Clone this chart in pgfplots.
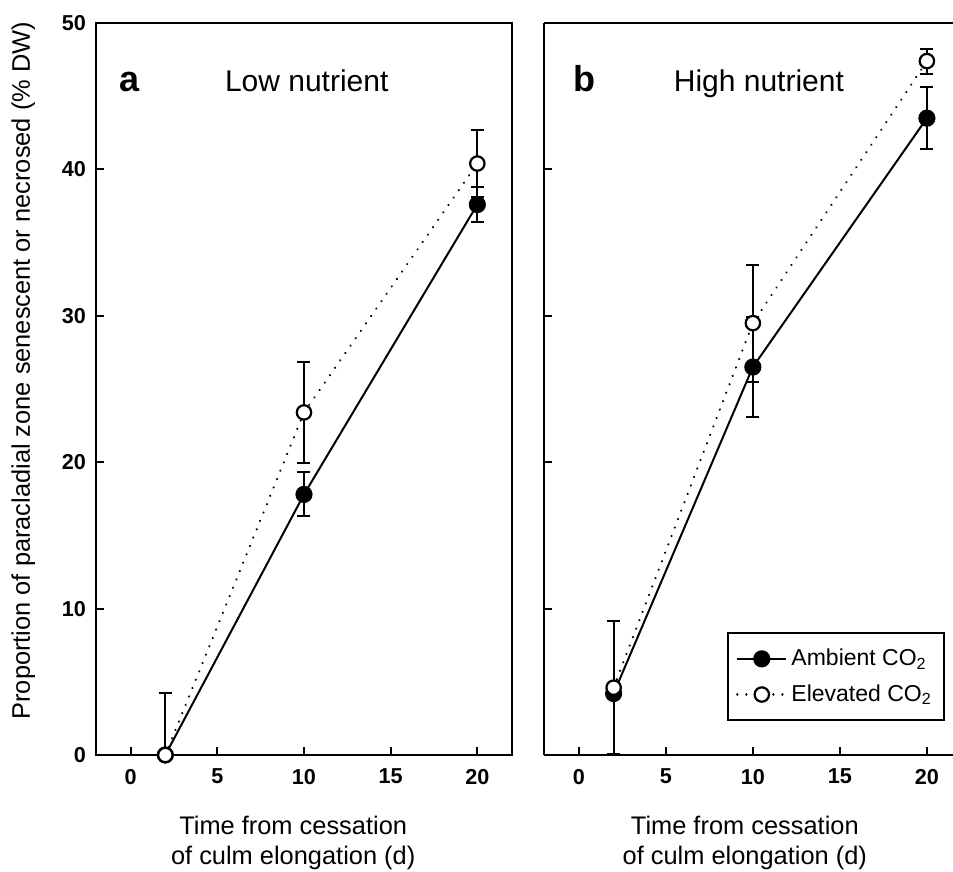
\documentclass[border=0pt]{standalone}
\usepackage{fontspec}
\setmainfont{Liberation Sans}
\usepackage{pgfplots}
\pgfplotsset{compat=1.18}

\pgfplotsset{
  panel/.style={
    scale only axis, height=366pt,
    xmin=-2, ymin=0, ymax=50,
    xtick={0,5,10,15,20}, ytick={0,10,20,30,40,50},
    tick align=inside, tick pos=left,
    major tick length=4pt,
    axis line style={line width=1pt},
    every tick/.style={black, line width=1pt},
    /pgf/number format/assume math mode=true,
    ticklabel style={font=\bfseries\fontsize{10.8}{12}\selectfont},
    xticklabel style={yshift=-3.5pt},
    yticklabel style={xshift=-1.5pt},
    label style={font=\fontsize{12.7}{15}\selectfont},
    clip mode=individual,
    legend image code/.code={\draw[mark repeat=2, mark phase=2] plot coordinates {(0cm,0cm) (0.43cm,0cm) (0.86cm,0cm)};},
  },
  amb/.style={black, line width=1pt, mark=*, mark size=3.8pt,
    mark options={solid, fill=black},
    error bars/y dir=both, error bars/y explicit,
    error bars/error bar style={solid, line width=1pt},
    error bars/error mark options={rotate=90, mark size=3.25pt, line width=1pt, solid}},
  elev/.style={black, line width=1.2pt, dash pattern=on 0.01pt off 4.5pt, line cap=round,
    mark=*, mark size=3.6pt,
    mark options={solid, fill=white, draw=black, line width=1.1pt},
    error bars/y dir=both, error bars/y explicit,
    error bars/error bar style={solid, line width=1pt, line cap=butt},
    error bars/error mark options={rotate=90, mark size=3.25pt, line width=1pt, solid}},
}

\begin{document}
\begin{tikzpicture}
\pgfresetboundingbox
\path[use as bounding box] (0pt,0pt) rectangle (476.5pt,436pt);

% Panel a
\begin{axis}[panel, at={(48pt,58.5pt)}, anchor=south west, width=208pt, xmax=22,
  ylabel={Proportion of paracladial zone senescent or necrosed (\% DW)},
  ylabel style={at={(axis description cs:-0.175,0.525)}, anchor=center, rotate=0},
  xlabel={Time from cessation\\of culm elongation (d)},
  xlabel style={at={(axis description cs:0.474,-0.12)}, anchor=center, align=center},
]
\addplot[amb] coordinates {
  (2,0) +- (0,0)
  (10,17.8) +- (0,1.5)
  (20,37.6) +- (0,1.2)
};
\addplot[elev] coordinates {
  (2,0) += (0,4.25) -= (0,0)
  (10,23.4) +- (0,3.45)
  (20,40.4) +- (0,2.3)
};
\node[anchor=base west, inner sep=0pt, font=\bfseries\fontsize{18}{20}\selectfont] at (axis cs:-0.68,45.3) {a};
\node[anchor=base west, inner sep=0pt, font=\fontsize{15}{18}\selectfont] at (axis cs:5.42,45.3) {Low nutrient};
\end{axis}

% Panel b
\begin{axis}[panel, at={(272pt,58.5pt)}, anchor=south west, width=204.5pt, xmax=21.5,
  axis y line*=left,
  yticklabels={},
  xlabel={Time from cessation\\of culm elongation (d)},
  xlabel style={at={(axis description cs:0.491,-0.12)}, anchor=center, align=center},
  legend style={at={(0.98,0.168)}, anchor=north east, draw=black, line width=1pt,
    font=\fontsize{11.5}{13}\selectfont, inner xsep=4pt, inner ysep=6pt, row sep=4pt,
    cells={anchor=west}},
]
\addplot[amb] coordinates {
  (2,4.2) +- (0,0.3)
  (10,26.5) +- (0,3.4)
  (20,43.5) +- (0,2.1)
};
\addlegendentry{Ambient CO\textsubscript{2}}
\addplot[elev] coordinates {
  (2,4.6) +- (0,4.55)
  (10,29.5) +- (0,4.0)
  (20,47.4) +- (0,0.85)
};
\addlegendentry{Elevated CO\textsubscript{2}}
\node[anchor=base west, inner sep=0pt, font=\bfseries\fontsize{18}{20}\selectfont] at (axis cs:-0.34,45.3) {b};
\node[anchor=base west, inner sep=0pt, font=\fontsize{15}{18}\selectfont] at (axis cs:5.44,45.3) {High nutrient};
\end{axis}
\end{tikzpicture}
\end{document}
